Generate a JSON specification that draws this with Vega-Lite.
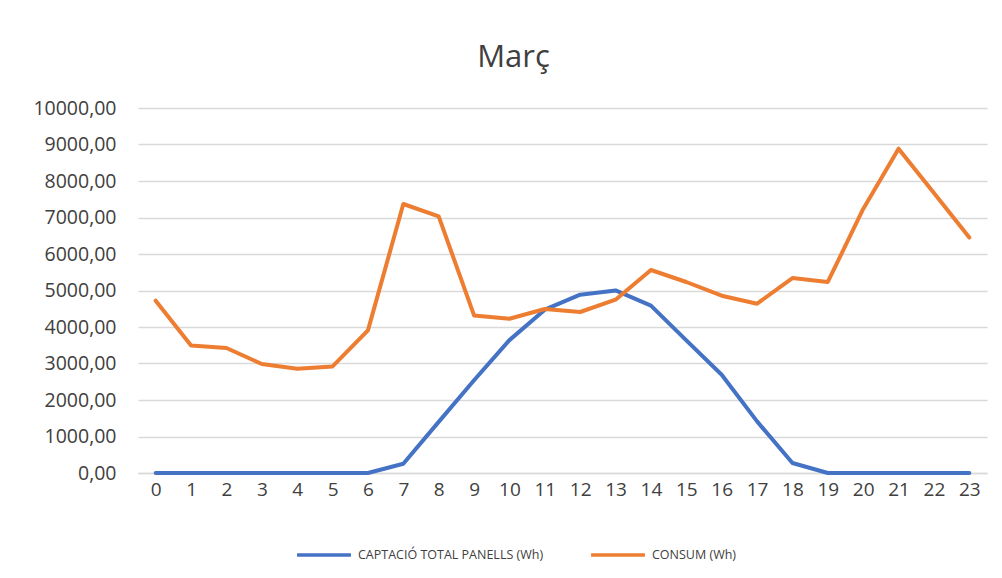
{
  "$schema": "https://vega.github.io/schema/vega-lite/v6.json",
  "width": 849,
  "height": 365,
  "autosize": "none",
  "padding": {"left": 138, "top": 108, "right": 15, "bottom": 105},
  "background": "white",
  "config": {
    "view": {"stroke": null},
    "font": "Open Sans"
  },
  "title": {
    "text": "Març",
    "fontSize": 31,
    "font": "Open Sans",
    "fontWeight": "normal",
    "color": "#404040",
    "anchor": "middle",
    "offset": 24,
    "dx": -49
  },
  "data": {
    "values": [
      {"hora": 0, "serie": "CAPTACIÓ TOTAL PANELLS (Wh)", "valor": 0},
      {"hora": 1, "serie": "CAPTACIÓ TOTAL PANELLS (Wh)", "valor": 0},
      {"hora": 2, "serie": "CAPTACIÓ TOTAL PANELLS (Wh)", "valor": 0},
      {"hora": 3, "serie": "CAPTACIÓ TOTAL PANELLS (Wh)", "valor": 0},
      {"hora": 4, "serie": "CAPTACIÓ TOTAL PANELLS (Wh)", "valor": 0},
      {"hora": 5, "serie": "CAPTACIÓ TOTAL PANELLS (Wh)", "valor": 0},
      {"hora": 6, "serie": "CAPTACIÓ TOTAL PANELLS (Wh)", "valor": 0},
      {"hora": 7, "serie": "CAPTACIÓ TOTAL PANELLS (Wh)", "valor": 255},
      {"hora": 8, "serie": "CAPTACIÓ TOTAL PANELLS (Wh)", "valor": 1400},
      {"hora": 9, "serie": "CAPTACIÓ TOTAL PANELLS (Wh)", "valor": 2540},
      {"hora": 10, "serie": "CAPTACIÓ TOTAL PANELLS (Wh)", "valor": 3640},
      {"hora": 11, "serie": "CAPTACIÓ TOTAL PANELLS (Wh)", "valor": 4474},
      {"hora": 12, "serie": "CAPTACIÓ TOTAL PANELLS (Wh)", "valor": 4885},
      {"hora": 13, "serie": "CAPTACIÓ TOTAL PANELLS (Wh)", "valor": 5003},
      {"hora": 14, "serie": "CAPTACIÓ TOTAL PANELLS (Wh)", "valor": 4584},
      {"hora": 15, "serie": "CAPTACIÓ TOTAL PANELLS (Wh)", "valor": 3633},
      {"hora": 16, "serie": "CAPTACIÓ TOTAL PANELLS (Wh)", "valor": 2693},
      {"hora": 17, "serie": "CAPTACIÓ TOTAL PANELLS (Wh)", "valor": 1414},
      {"hora": 18, "serie": "CAPTACIÓ TOTAL PANELLS (Wh)", "valor": 274},
      {"hora": 19, "serie": "CAPTACIÓ TOTAL PANELLS (Wh)", "valor": 0},
      {"hora": 20, "serie": "CAPTACIÓ TOTAL PANELLS (Wh)", "valor": 0},
      {"hora": 21, "serie": "CAPTACIÓ TOTAL PANELLS (Wh)", "valor": 0},
      {"hora": 22, "serie": "CAPTACIÓ TOTAL PANELLS (Wh)", "valor": 0},
      {"hora": 23, "serie": "CAPTACIÓ TOTAL PANELLS (Wh)", "valor": 0},
      {"hora": 0, "serie": "CONSUM (Wh)", "valor": 4721},
      {"hora": 1, "serie": "CONSUM (Wh)", "valor": 3496},
      {"hora": 2, "serie": "CONSUM (Wh)", "valor": 3425},
      {"hora": 3, "serie": "CONSUM (Wh)", "valor": 2986},
      {"hora": 4, "serie": "CONSUM (Wh)", "valor": 2858},
      {"hora": 5, "serie": "CONSUM (Wh)", "valor": 2921},
      {"hora": 6, "serie": "CONSUM (Wh)", "valor": 3907},
      {"hora": 7, "serie": "CONSUM (Wh)", "valor": 7370},
      {"hora": 8, "serie": "CONSUM (Wh)", "valor": 7030},
      {"hora": 9, "serie": "CONSUM (Wh)", "valor": 4318},
      {"hora": 10, "serie": "CONSUM (Wh)", "valor": 4227},
      {"hora": 11, "serie": "CONSUM (Wh)", "valor": 4493},
      {"hora": 12, "serie": "CONSUM (Wh)", "valor": 4411},
      {"hora": 13, "serie": "CONSUM (Wh)", "valor": 4748},
      {"hora": 14, "serie": "CONSUM (Wh)", "valor": 5562},
      {"hora": 15, "serie": "CONSUM (Wh)", "valor": 5233},
      {"hora": 16, "serie": "CONSUM (Wh)", "valor": 4858},
      {"hora": 17, "serie": "CONSUM (Wh)", "valor": 4638},
      {"hora": 18, "serie": "CONSUM (Wh)", "valor": 5342},
      {"hora": 19, "serie": "CONSUM (Wh)", "valor": 5233},
      {"hora": 20, "serie": "CONSUM (Wh)", "valor": 7233},
      {"hora": 21, "serie": "CONSUM (Wh)", "valor": 8885},
      {"hora": 22, "serie": "CONSUM (Wh)", "valor": 7671},
      {"hora": 23, "serie": "CONSUM (Wh)", "valor": 6455}
    ]
  },
  "mark": {"type": "line", "strokeWidth": 4, "strokeCap": "round", "strokeJoin": "round"},
  "encoding": {
    "x": {
      "field": "hora",
      "type": "ordinal",
      "scale": {"type": "point", "padding": 0.5},
      "axis": {
        "title": null,
        "labelAngle": 0,
        "labelFontSize": 19,
        "labelColor": "#404040",
        "labelPadding": 7,
        "ticks": false,
        "domain": true,
        "domainColor": "#D9D9D9",
        "domainWidth": 1.5,
        "grid": false
      }
    },
    "y": {
      "field": "valor",
      "type": "quantitative",
      "scale": {"domain": [0, 10000], "nice": false},
      "axis": {
        "title": null,
        "values": [0, 1000, 2000, 3000, 4000, 5000, 6000, 7000, 8000, 9000, 10000],
        "labelExpr": "replace(format(datum.value, '.2f'), '.', ',')",
        "labelFontSize": 19.5,
        "labelColor": "#404040",
        "labelPadding": 22,
        "ticks": false,
        "domain": false,
        "grid": true,
        "gridColor": "#D9D9D9",
        "gridWidth": 1.5
      }
    },
    "color": {
      "field": "serie",
      "type": "nominal",
      "scale": {
        "domain": ["CAPTACIÓ TOTAL PANELLS (Wh)", "CONSUM (Wh)"],
        "range": ["#4472C4", "#ED7D31"]
      },
      "legend": {
        "title": null,
        "orient": "none",
        "legendX": 157,
        "legendY": 418,
        "direction": "horizontal",
        "symbolType": "stroke",
        "symbolSize": 2900,
        "symbolStrokeWidth": 3.5,
        "labelFontSize": 12.5,
        "labelLimit": 0,
        "labelOffset": 5,
        "labelColor": "#404040",
        "columnPadding": 40
      }
    }
  }
}
